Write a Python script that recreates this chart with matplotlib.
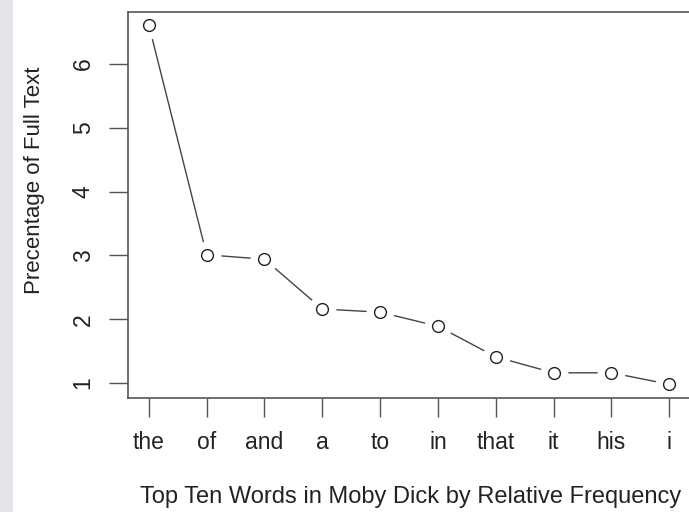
import matplotlib
matplotlib.use("Agg")
import matplotlib.pyplot as plt
from matplotlib.patches import Rectangle
import numpy as np

words = ["the", "of", "and", "a", "to", "in", "that", "it", "his", "i"]
percent = [6.61, 3.01, 2.94, 2.16, 2.11, 1.89, 1.41, 1.16, 1.16, 0.98]
yticks = [1, 2, 3, 4, 5, 6]

plt.rcParams['font.family'] = ['Liberation Sans', 'DejaVu Sans']

W, H = 689, 512
fig = plt.figure(figsize=(W/100, H/100), dpi=100)
fig.patch.set_facecolor('white')
fig.add_artist(Rectangle((0, 0), 13/W, 1, transform=fig.transFigure,
                         facecolor='#e6e6ea', edgecolor='none', zorder=0))

left, right, top, bottom = 128, 690, 12, 398
ax = fig.add_axes([left/W, 1-bottom/H, (right-left)/W, (bottom-top)/H])
x = np.arange(1, len(words)+1)
ax.set_xlim(0.64, 10.36)
ax.set_ylim(0.765, 6.815)

ax.plot(x, percent, color='#444444', lw=1.0, zorder=1)
ax.plot(x, percent, 'o', ms=20, mfc='white', mec='none', zorder=2)
ax.plot(x, percent, 'o', ms=8.5, mfc='white', mec='#222222', mew=1.0, zorder=3)

for s in ax.spines.values():
    s.set_color('#555555')
    s.set_linewidth(1.2)

ax.set_xticks(x)
ax.set_xticklabels(words, fontsize=16.5, color='#222222')
ax.set_yticks(yticks)
ax.set_yticklabels([str(v) for v in yticks], fontsize=16.5, rotation=90,
                   va='center', color='#222222')
ax.tick_params(axis='both', length=14, width=1.0, color='#555555')
ax.tick_params(axis='x', pad=10)
ax.tick_params(axis='y', pad=10)

fig.text(35/W, 1-180/H, "Precentage of Full Text", rotation=90,
         ha='center', va='center', fontsize=16, color='#222222')
fig.text(411/W, 1-497/H, "Top Ten Words in Moby Dick by Relative Frequency",
         ha='center', va='center', fontsize=17, color='#222222')

fig.savefig("out.png", dpi=100)
